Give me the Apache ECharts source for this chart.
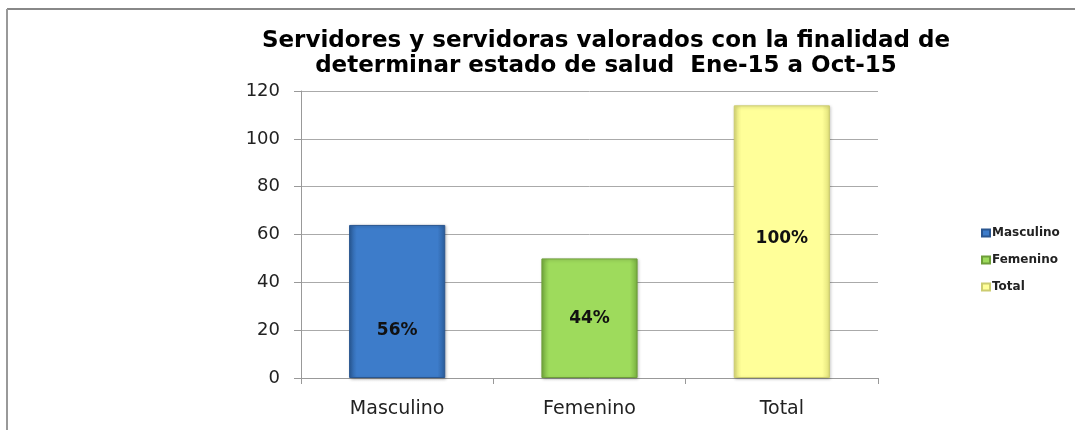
<!DOCTYPE html>
<html>
<head>
<meta charset="utf-8">
<script src="https://cdn.jsdelivr.net/npm/echarts@6/dist/echarts.min.js"></script>
<style>
html,body{margin:0;padding:0;background:#fff;}
#chart{width:1075px;height:430px;}
</style>
</head>
<body>
<div id="chart"></div>
<script>
const categories = ['Masculino', 'Femenino', 'Total'];
const values = [64, 50, 114];
const percentLabels = ['56%', '44%', '100%'];
const yTicks = [0, 20, 40, 60, 80, 100, 120];
const titleLines = ['Servidores y servidoras valorados con la finalidad de', 'determinar estado de salud  Ene-15 a Oct-15'];

function grad(edge, mid) {
  return new echarts.graphic.LinearGradient(0, 0, 1, 0, [
    {offset: 0, color: edge},
    {offset: 0.08, color: mid},
    {offset: 0.92, color: mid},
    {offset: 1, color: edge}
  ]);
}
const fills = [
  grad('#2b5d9c', '#3d7cca'),
  grad('#78b040', '#9edb5c'),
  grad('#e0e07a', '#ffff99')
];
const borders = ['#2a5690', '#6e9e3a', '#cccc70'];
const labelOffsets = [[0, 29], [0, 0], [0, -3]];

const chart = echarts.init(document.getElementById('chart'));
const series = categories.map((c, i) => ({
  name: c,
  type: 'bar',
  stack: 'all',
  barWidth: '50%',
  data: categories.map((_, j) => j === i ? values[i] : '-'),
  itemStyle: {color: fills[i], borderColor: borders[i], borderWidth: 1,
    shadowColor: 'rgba(0,0,0,0.25)', shadowBlur: 3, shadowOffsetX: 1, shadowOffsetY: 1},
  label: {
    show: true, position: 'inside', offset: labelOffsets[i],
    formatter: () => percentLabels[i],
    fontFamily: 'DejaVu Sans', fontWeight: 'bold', fontSize: 17, color: '#111'
  }
}));

chart.setOption({
  animation: false,
  backgroundColor: '#fff',
  title: {
    text: titleLines.join('\n'),
    left: 601, top: 24, textAlign: 'center',
    textStyle: {fontFamily: 'DejaVu Sans', fontWeight: 'bold', fontSize: 23, lineHeight: 25, color: '#000'}
  },
  legend: {
    orient: 'vertical', left: 976, top: 222, itemGap: 15,
    itemWidth: 8, itemHeight: 7, icon: 'rect',
    data: categories,
    textStyle: {fontFamily: 'DejaVu Sans', fontWeight: 'bold', fontSize: 12, color: '#222', padding: [0, 0, 0, -3]}
  },
  grid: {left: 301, right: 197, top: 91, bottom: 52},
  xAxis: {
    type: 'category', data: categories,
    axisLine: {lineStyle: {color: '#999'}},
    axisTick: {show: true, length: 6, lineStyle: {color: '#999'}},
    axisLabel: {fontFamily: 'DejaVu Sans', fontSize: 19, color: '#222', margin: 22}
  },
  yAxis: {
    type: 'value', min: yTicks[0], max: yTicks[yTicks.length - 1], interval: 20,
    axisLine: {show: true, lineStyle: {color: '#999'}},
    axisTick: {show: true, length: 7, lineStyle: {color: '#999'}},
    axisLabel: {fontFamily: 'DejaVu Sans', fontSize: 18, color: '#222', margin: 21},
    splitLine: {lineStyle: {color: '#aaa'}}
  },
  graphic: [
    {type: 'line', shape: {x1: 7, y1: 9, x2: 1075, y2: 9}, style: {stroke: '#888', lineWidth: 2}},
    {type: 'line', shape: {x1: 7, y1: 9, x2: 7, y2: 430}, style: {stroke: '#999', lineWidth: 2}}
  ],
  series: series
});
</script>
</body>
</html>
